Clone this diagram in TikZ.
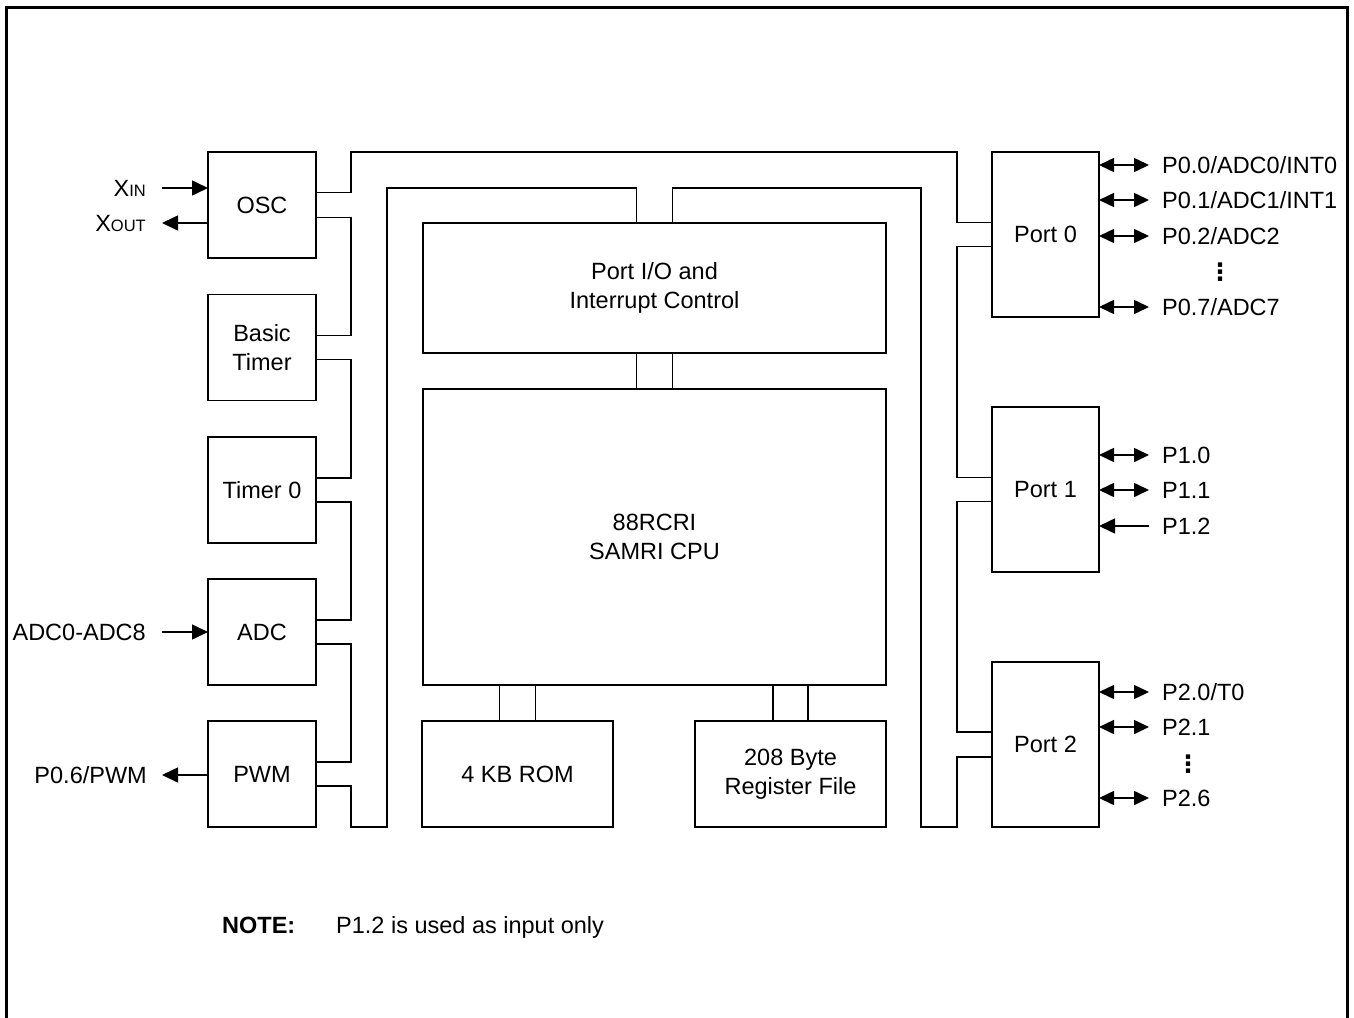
\documentclass[tikz,border=0pt]{standalone}
\usepackage{fontspec}
\setmainfont{Liberation Sans}
\newfontfamily\dejavu{DejaVu Sans}
\usetikzlibrary{arrows.meta}
\begin{document}
\begin{tikzpicture}[x=1pt,y=-1pt,
  every node/.style={font=\fontsize{23.5}{28.5}\selectfont},
  blk/.style={draw, line width=1.6pt, inner sep=0pt, outer sep=0pt, align=center},
  small/.style={blk, minimum width=108pt, minimum height=106pt},
  port/.style={blk, minimum width=107pt, minimum height=165pt},
  bus/.style={line width=1.6pt},
  arr/.style={line width=1.6pt, -{Triangle[length=16pt,width=15pt]}},
  dbl/.style={line width=1.6pt, {Triangle[length=15pt,width=14pt]}-{Triangle[length=15pt,width=14pt]}},
  lbl/.style={inner sep=0pt, text height=17pt, text depth=0pt},
  dotsty/.style={inner sep=0pt, font=\dejavu\bfseries\fontsize{24}{26}\selectfont}
]
\useasboundingbox (0,0) rectangle (1354,1017);
% frame (open at bottom)
\draw[line width=3pt] (6,1030) -- (6,7) -- (1347,7) -- (1347,1030);

% left blocks
\node[small] (osc) at (262,205) {OSC};
\node[small] (bt) at (262,347.5) {Basic\\Timer};
\node[small] (t0) at (262,490) {Timer 0};
\node[small] (adc) at (262,632) {ADC};
\node[small] (pwm) at (262,774) {PWM};

% centre blocks
\node[blk, minimum width=463pt, minimum height=130pt] (pio) at (654.5,288) {Port I/O and\\Interrupt Control};
\node[blk, minimum width=463pt, minimum height=296pt] (cpu) at (654.5,537) {88RCRI\\SAMRI CPU};
\node[blk, minimum width=191pt, minimum height=106pt] (rom) at (517.5,774) {4 KB ROM};
\node[blk, minimum width=191pt, minimum height=106pt] (reg) at (790.5,774) {208 Byte\\Register File};

% ports
\node[port] (p0) at (1045.5,234.5) {Port 0};
\node[port] (p1) at (1045.5,489.5) {Port 1};
\node[port] (p2) at (1045.5,744.5) {Port 2};

% bus outline
\draw[bus] ([yshift=12.5pt]osc.east) -- ++(35,0) |- ([xshift=-35pt]p0.north west) |- ([yshift=12pt]p0.west);
\draw[bus] ([yshift=-12.5pt]osc.east) -- ++(35,0) |- ([yshift=12pt]bt.east);
\draw[bus] ([yshift=-12pt]bt.east) -- ++(35,0) |- ([yshift=12pt]t0.east);
\draw[bus] ([yshift=-12pt]t0.east) -- ++(35,0) |- ([yshift=12pt]adc.east);
\draw[bus] ([yshift=-12pt]adc.east) -- ++(35,0) |- ([yshift=12pt]pwm.east);
\draw[bus] ([yshift=-12pt]pwm.east) -- ++(35,0) |- ([xshift=71pt]pwm.south east)
   |- ([xshift=-18pt,yshift=35pt]pio.north) -- ([xshift=-18pt]pio.north);
\draw[bus] ([xshift=18pt]pio.north) -- ++(0,-35) -| ([xshift=-71pt]p2.south west)
   -- ([xshift=-35pt]p2.south west) |- ([yshift=-12.5pt]p2.west);
\draw[bus] ([yshift=12.5pt]p2.west) -- ++(-35,0) |- ([yshift=-12pt]p1.west);
\draw[bus] ([yshift=12pt]p1.west) -- ++(-35,0) |- ([yshift=-12pt]p0.west);

% internal connections
\draw[bus] ([xshift=-18pt]pio.south) -- ([xshift=-18pt]cpu.north);
\draw[bus] ([xshift=18pt]pio.south) -- ([xshift=18pt]cpu.north);
\draw[bus] ([xshift=-18pt]rom.north) -- ([xshift=-18pt]rom.north |- cpu.south);
\draw[bus] ([xshift=18pt]rom.north) -- ([xshift=18pt]rom.north |- cpu.south);
\draw[bus] ([xshift=-17.5pt]reg.north) -- ([xshift=-17.5pt]reg.north |- cpu.south);
\draw[bus] ([xshift=17.5pt]reg.north) -- ([xshift=17.5pt]reg.north |- cpu.south);

% left signals
\node[lbl, anchor=east] (xin) at (146,188) {X{\fontsize{16.5}{18}\selectfont IN}};
\node[lbl, anchor=east] (xout) at (146,223) {X{\fontsize{16.5}{18}\selectfont OUT}};
\node[lbl, anchor=east] (adcin) at (146,632) {ADC0-ADC8};
\node[lbl, anchor=east] (pwmout) at (147,775) {P0.6/PWM};
\draw[arr] ([xshift=16pt]xin.east) -- (xin.east -| osc.west);
\draw[arr] (xout.east -| osc.west) -- ([xshift=16pt]xout.east);
\draw[arr] ([xshift=16pt]adcin.east) -- (adcin.east -| adc.west);
\draw[arr] (pwmout.east -| pwm.west) -- ([xshift=15pt]pwmout.east);

% right signals
\node[lbl, anchor=west] (l00) at (1162,165) {P0.0/ADC0/INT0};
\node[lbl, anchor=west] (l01) at (1162,200) {P0.1/ADC1/INT1};
\node[lbl, anchor=west] (l02) at (1162,236) {P0.2/ADC2};
\node[dotsty] (d0) at (1220,272) {⋮};
\node[lbl, anchor=west] (l07) at (1162,307) {P0.7/ADC7};
\node[lbl, anchor=west] (l10) at (1162,455) {P1.0};
\node[lbl, anchor=west] (l11) at (1162,490) {P1.1};
\node[lbl, anchor=west] (l12) at (1162,526) {P1.2};
\node[lbl, anchor=west] (l20) at (1162,692) {P2.0/T0};
\node[lbl, anchor=west] (l21) at (1162,727) {P2.1};
\node[dotsty] (d2) at (1188,764) {⋮};
\node[lbl, anchor=west] (l26) at (1162,798) {P2.6};

\foreach \l/\p in {l00/p0,l01/p0,l02/p0,l07/p0,l10/p1,l11/p1,l20/p2,l21/p2,l26/p2}
  \draw[dbl] (\l.west -| \p.east) -- ([xshift=-13pt]\l.west);
\draw[arr] ([xshift=-13pt]l12.west) -- (l12.west -| p1.east);

% note
\node[lbl, anchor=west, font=\fontsize{23.5}{28.5}\selectfont\bfseries] (note) at (222,925) {NOTE:};
\node[lbl, anchor=west] (notetext) at (336,925) {P1.2 is used as input only};
\end{tikzpicture}
\end{document}
